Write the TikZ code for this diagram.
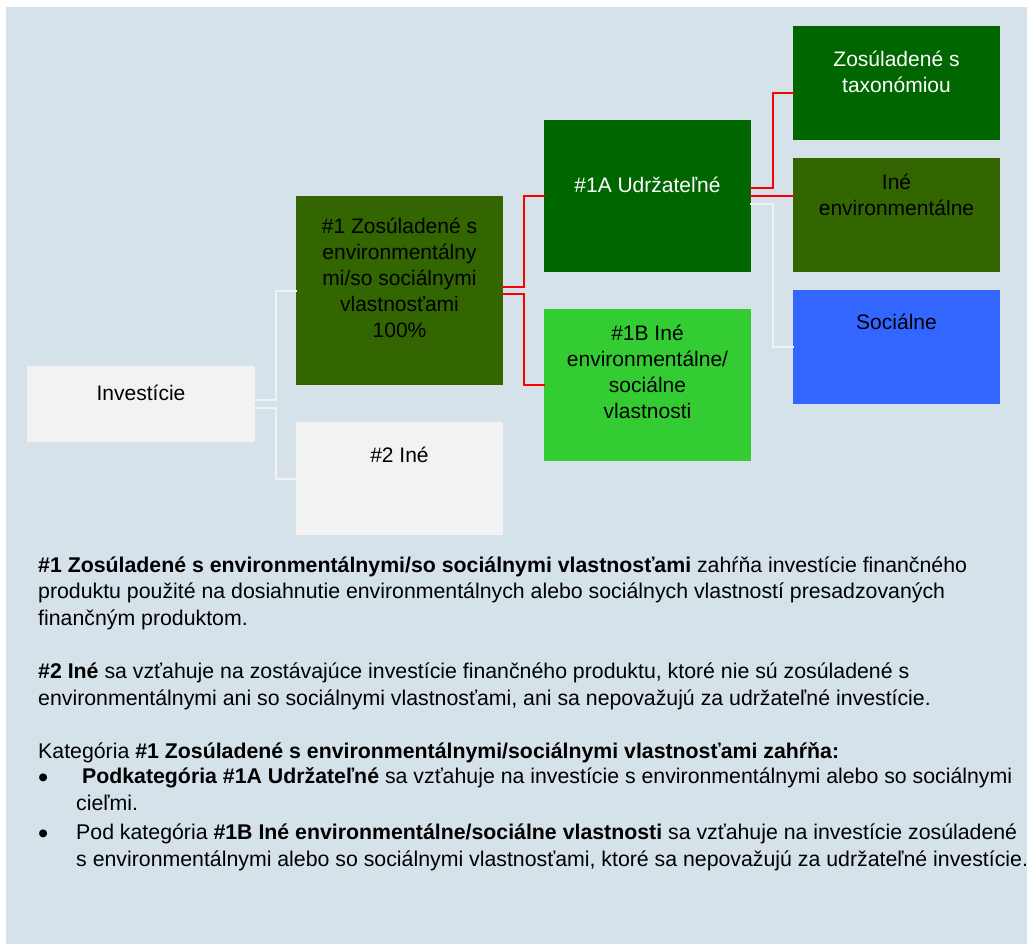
\documentclass[tikz,border=0pt]{standalone}
\usepackage{fontspec}
\setmainfont{Liberation Sans}
\definecolor{bgblue}{HTML}{D5E2EA}
\definecolor{palegrey}{HTML}{F2F2F2}
\definecolor{olivegreen}{HTML}{336600}
\definecolor{darkgreen}{HTML}{006600}
\definecolor{brightgreen}{HTML}{33CC33}
\definecolor{socblue}{HTML}{3366FF}
\tikzset{
  box/.style={rectangle, inner sep=0pt, minimum width=207pt, minimum height=114pt},
  boxtext/.style={align=center, inner sep=0pt, font=\fontsize{21}{26}\selectfont},
  body/.style={anchor=base west, align=left, inner sep=0pt, font=\fontsize{21.3}{26.5}\selectfont},
  dot/.style={anchor=base west, inner sep=0pt, font=\fontsize{29}{29}\selectfont},
  wline/.style={draw=palegrey, line width=2pt},
  rline/.style={draw=red, line width=2pt}
}
\begin{document}
\begin{tikzpicture}[x=1pt,y=-1pt]
      \useasboundingbox (0,0) rectangle (1027,944);
      \fill[bgblue] (6,7) rectangle (1027,944);
      % boxes
      \node[box, fill=palegrey, minimum width=228pt, minimum height=76pt] (inv) at (141,404) {};
      \node[box, fill=olivegreen, minimum height=189pt] (one) at (399.5,290.5) {};
      \node[box, fill=palegrey, minimum height=113pt] (two) at (399.5,478.5) {};
      \node[box, fill=darkgreen, minimum height=152pt] (oneA) at (647.5,196) {};
      \node[box, fill=brightgreen, minimum height=152pt] (oneB) at (647.5,385) {};
      \node[box, fill=darkgreen] (tax) at (896.5,83) {};
      \node[box, fill=olivegreen] (ineenv) at (896.5,215) {};
      \node[box, fill=socblue] (soc) at (896.5,347) {};
      % box texts
      \node[boxtext] (inv-t) at (141,393) {Investície};
      \node[boxtext] (one-t) at (399.5,278) {\#1 Zosúladené s\\environmentálny\\mi/so sociálnymi\\vlastnosťami\\100\%};
      \node[boxtext] (two-t) at (399.5,455) {\#2 Iné};
      \node[boxtext, text=white] (oneA-t) at (647.5,185) {\#1A Udržateľné};
      \node[boxtext] (oneB-t) at (647.5,372) {\#1B Iné\\environmentálne/\\sociálne\\vlastnosti};
      \node[boxtext, text=white] (tax-t) at (896.5,72) {Zosúladené s\\taxonómiou};
      \node[boxtext] (ineenv-t) at (896.5,195) {Iné\\environmentálne};
      \node[boxtext] (soc-t) at (896.5,322) {Sociálne};
      % connectors
      \begin{scope}[line cap=rect]
        \draw[wline] ([yshift=4pt]inv.east) -- ++(21,0) |- (one.west);
        \draw[wline] ([yshift=-4pt]inv.east) -- ++(21,0) |- (two.west);
        \draw[rline] ([yshift=3.5pt]one.east) -- ++(21,0) |- (oneA.west);
        \draw[rline] ([yshift=-3.5pt]one.east) -- ++(21,0) |- (oneB.west);
        \draw[rline] ([yshift=8pt]oneA.east) -- ++(22,0) |- ([yshift=-10pt]tax.west);
        \draw[rline] (oneA.east) -- (ineenv.west |- oneA.east);
        \draw[wline] ([yshift=-8pt]oneA.east) -- ++(22,0) |- (soc.west);
      \end{scope}
      % explanation (base = last line)
      \node[body] (p1) at (38,625) {\textbf{\#1 Zosúladené s environmentálnymi/so sociálnymi vlastnosťami} zahŕňa investície finančného\\produktu použité na dosiahnutie environmentálnych alebo sociálnych vlastností presadzovaných\\finančným produktom.};
      \node[body] (p2) at (38,705) {\textbf{\#2 Iné} sa vzťahuje na zostávajúce investície finančného produktu, ktoré nie sú zosúladené s\\environmentálnymi ani so sociálnymi vlastnosťami, ani sa nepovažujú za udržateľné investície.};
      \node[body] (p3) at (38,758) {Kategória \textbf{\#1 Zosúladené s environmentálnymi/sociálnymi vlastnosťami zahŕňa:}};
      \node[dot] (b1) at (38,787) {\textbullet};
      \node[body] (l1) at (76,810) {\ \textbf{Podkategória \#1A Udržateľné} sa vzťahuje na investície s environmentálnymi alebo so sociálnymi\\cieľmi.};
      \node[dot] (b2) at (38,843) {\textbullet};
      \node[body] (l2) at (76,866) {Pod kategória \textbf{\#1B Iné environmentálne/sociálne vlastnosti} sa vzťahuje na investície zosúladené\\s environmentálnymi alebo so sociálnymi vlastnosťami, ktoré sa nepovažujú za udržateľné investície.};
    \end{tikzpicture}
\end{document}
